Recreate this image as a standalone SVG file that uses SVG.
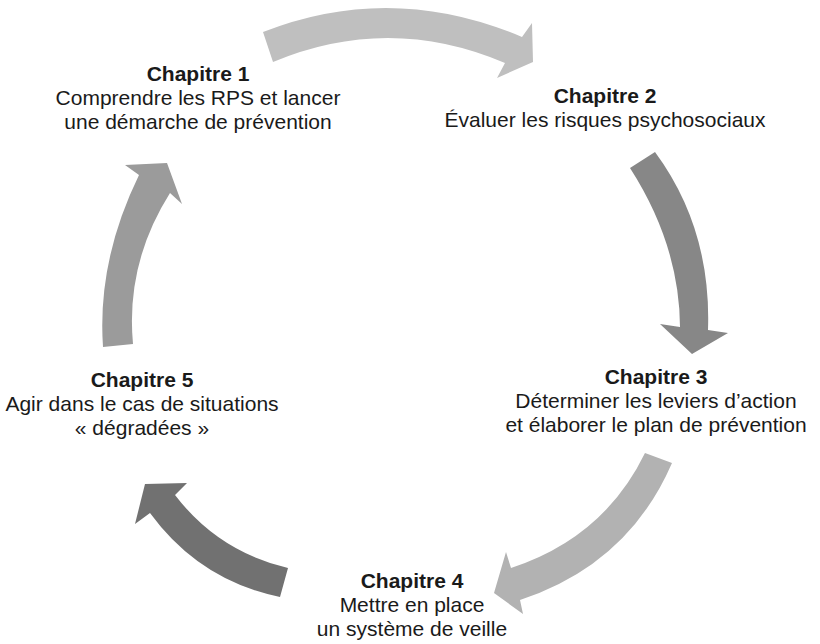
<svg xmlns="http://www.w3.org/2000/svg" width="820" height="644" viewBox="0 0 820 644">
<style>
  text { font-family: "Liberation Sans", Arial, sans-serif; font-size: 21px; fill: #1a1a1a; text-anchor: middle; }
  .t { font-weight: bold; }
</style>
<rect width="820" height="644" fill="#ffffff"/>
<g id="connectors">
  <path id="a1" fill="#bfbfbf" d="M263,32 Q391.5,-18.5 522,37 L532,23 L533,62 L497,78 L505,63 Q389,13.5 273,62 Z"/>
  <path id="a2" fill="#878787" d="M655,152 Q711.5,228.5 708,330 L728,333 L692,354 L660,324 L680,327 Q679.5,245 630,168 Z"/>
  <path id="a3" fill="#b2b2b2" d="M672,463 Q628,564.5 520,600 L523,614 L494,593 L506,552 L511,568 Q604,537.5 645,453 Z"/>
  <path id="a4" fill="#717171" d="M280,597 Q199.5,580.5 150,513 L135,524 L145,484 L187,483 L175,495 Q218.5,551.7 288,568 Z"/>
  <path id="a5" fill="#9b9b9b" d="M103,347 Q97,261 139,175 L125,165 L167,163 L182,204 L170,193 Q125.5,263.5 133,344 Z"/>
</g>
<g id="chapitre1">
  <text class="t" x="198" y="81">Chapitre 1</text>
  <text x="198" y="105">Comprendre les RPS et lancer</text>
  <text x="198" y="129">une démarche de prévention</text>
</g>
<g id="chapitre2">
  <text class="t" x="605" y="103">Chapitre 2</text>
  <text x="605" y="127">Évaluer les risques psychosociaux</text>
</g>
<g id="chapitre3">
  <text class="t" x="656" y="384">Chapitre 3</text>
  <text x="656" y="408">Déterminer les leviers d’action</text>
  <text x="656" y="432">et élaborer le plan de prévention</text>
</g>
<g id="chapitre4">
  <text class="t" x="412" y="588">Chapitre 4</text>
  <text x="412" y="612">Mettre en place</text>
  <text x="412" y="636">un système de veille</text>
</g>
<g id="chapitre5">
  <text class="t" x="142" y="387">Chapitre 5</text>
  <text x="142" y="411">Agir dans le cas de situations</text>
  <text x="142" y="435">« dégradées »</text>
</g>
</svg>
